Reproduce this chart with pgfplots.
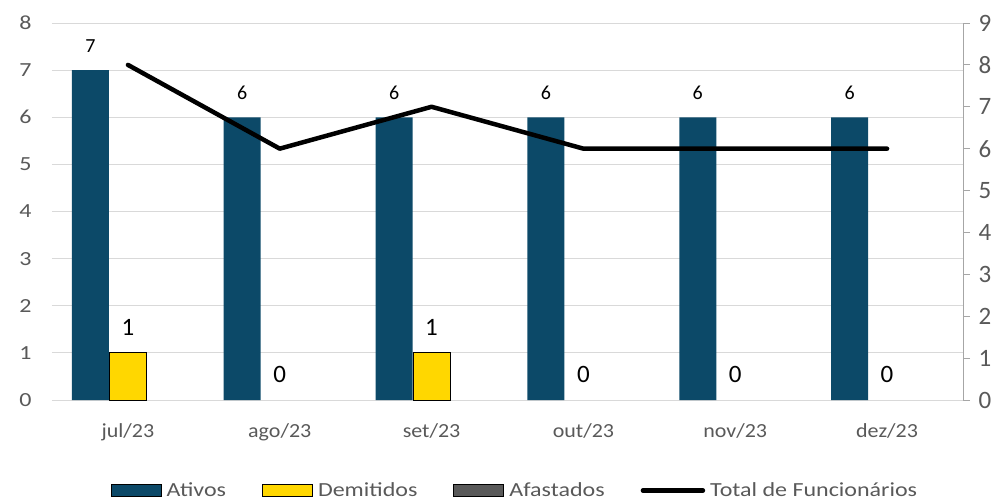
\documentclass[border=0pt]{standalone}
\usepackage{pgfplots}
\pgfplotsset{compat=1.18}
\usepackage{fontspec}
\setmainfont{Carlito}
\newfontfamily\widefont{Carlito}[FakeStretch=1.2]
\newfontfamily\midfont{Carlito}[FakeStretch=1.1]
\definecolor{ativos}{RGB}{12,73,104}
\definecolor{amarelo}{RGB}{255,215,0}
\definecolor{afast}{RGB}{89,89,89}
\definecolor{gridgray}{RGB}{217,217,217}
\definecolor{axisgray}{RGB}{166,166,166}
\definecolor{textgray}{RGB}{89,89,89}
\pgfplotsset{
  boxlegend/.style={legend image code/.code={\draw[##1] (0pt,-6pt) rectangle (50pt,6pt);}},
  linelegend/.style={legend image code/.code={\draw[##1] (0pt,0pt) -- (60pt,0pt);}},
}
\begin{document}
\begin{tikzpicture}
\begin{axis}[
  scale only axis, width=911pt, height=377pt,
  xmin=-0.5, xmax=5.5, ymin=0, ymax=8,
  /pgf/number format/assume math mode=true,
  ybar=0pt, bar width=37pt,
  xtick={0,1,2,3,4,5},
  xticklabels={jul/23,ago/23,set/23,out/23,nov/23,dez/23},
  ytick={0,1,2,3,4,5,6,7,8},
  axis line style={draw=none},
  ymajorgrids, grid style={draw=gridgray, line width=1pt},
  major tick length=0pt,
  xticklabel style={font=\midfont\fontsize{20}{24}\selectfont, text=textgray, yshift=-20pt},
  yticklabel style={font=\widefont\fontsize{20}{24}\selectfont, text=textgray, xshift=-17pt},
  clip=false,
]
\addplot[fill=ativos, draw=none, bar shift=-37.5pt,
  nodes near coords, every node near coord/.append style={font=\fontsize{20}{24}\selectfont, text=black, anchor=south, yshift=14pt}]
  coordinates {(0,7)(1,6)(2,6)(3,6)(4,6)(5,6)};
\addplot[fill=amarelo, draw=black, line width=1pt, bar shift=0pt,
  restrict y to domain=0.5:100]
  coordinates {(0,1)(1,0)(2,1)(3,0)(4,0)(5,0)};
\addplot[draw=none, fill=none, bar shift=0pt,
  nodes near coords, every node near coord/.append style={font=\fontsize{25}{30}\selectfont, text=black, anchor=south, yshift=14pt}]
  coordinates {(0,1)(1,0)(2,1)(3,0)(4,0)(5,0)};
\addplot[fill=none, draw=none, bar shift=37.5pt]
  coordinates {(0,0)(1,0)(2,0)(3,0)(4,0)(5,0)};
\end{axis}
\begin{axis}[
  scale only axis, width=911pt, height=377pt,
  xmin=-0.5, xmax=5.5, ymin=0, ymax=9,
  /pgf/number format/assume math mode=true,
  axis x line=none, axis y line*=right,
  y axis line style={draw=axisgray, line width=1pt, -},
  ytick={0,1,2,3,4,5,6,7,8,9},
  tick align=outside, major tick length=7pt,
  tick style={draw=axisgray, line width=1pt},
  yticklabel style={font=\fontsize{25}{30}\selectfont, text=textgray, xshift=5pt},
  legend columns=4,
  legend style={draw=none, fill=none, at={(0.5085,-0.24)}, anchor=center,
    font=\widefont\fontsize{20}{24}\selectfont, text=textgray,
    /tikz/every even column/.append style={column sep=34pt},
    /tikz/every odd column/.append style={column sep=3pt},
    nodes={inner sep=2pt}},
  clip=false,
]
\addlegendimage{boxlegend, fill=ativos, draw=none}
\addlegendentry{Ativos}
\addlegendimage{boxlegend, fill=amarelo, draw=black, line width=1pt}
\addlegendentry{Demitidos}
\addlegendimage{boxlegend, fill=afast, draw=black, line width=1pt}
\addlegendentry{Afastados}
\addplot[black, line width=4.5pt, mark=none, line cap=round, line join=round, linelegend] coordinates {(0,8)(1,6)(2,7)(3,6)(4,6)(5,6)};
\addlegendentry{Total de Funcionários}
\end{axis}
\pgfresetboundingbox
\useasboundingbox (-52pt,-101pt) rectangle (953pt,400pt);
\end{tikzpicture}
\end{document}
